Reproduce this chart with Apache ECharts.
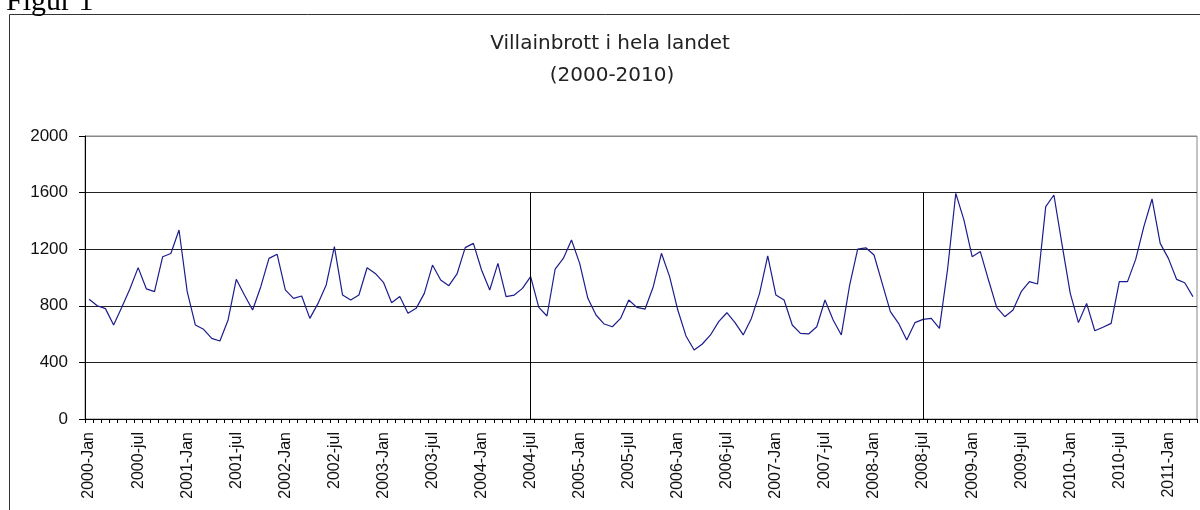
<!DOCTYPE html>
<html>
<head>
<meta charset="utf-8">
<title>Villainbrott i hela landet</title>
<script src="https://cdn.jsdelivr.net/npm/echarts@6/dist/echarts.min.js"></script>
<style>
  html, body { margin: 0; padding: 0; background: #fff; }
  #main { width: 1200px; height: 510px; }
</style>
</head>
<body>
<div id="main"></div>
<script>
// månadsnamn som i originalet (Jan / jul syns på axeln)
var months = ['Jan', 'feb', 'mar', 'apr', 'maj', 'jun', 'jul', 'aug', 'sep', 'okt', 'nov', 'dec'];
var firstYear = 2000;

// antal villainbrott per månad
var v2000 = [846, 800, 780, 665, 790, 920, 1070, 920, 900, 1147, 1170, 1336];
var v2001 = [900, 664, 634, 570, 551, 700, 987, 876, 770, 935, 1135, 1164];
var v2002 = [912, 853, 869, 711, 817, 947, 1218, 876, 841, 876, 1069, 1029];
var v2003 = [966, 822, 865, 747, 782, 888, 1088, 982, 942, 1025, 1211, 1241];
var v2004 = [1053, 912, 1100, 865, 876, 923, 1006, 789, 728, 1060, 1135, 1265];
var v2005 = [1100, 853, 735, 671, 652, 711, 841, 789, 777, 935, 1171, 1006];
var v2006 = [770, 587, 488, 530, 594, 688, 751, 681, 594, 711, 888, 1152];
var v2007 = [876, 841, 664, 605, 601, 652, 841, 700, 594, 940, 1200, 1210];
var v2008 = [1159, 959, 759, 676, 558, 681, 704, 711, 641, 1060, 1595, 1406];
var v2009 = [1147, 1183, 982, 789, 723, 770, 900, 971, 954, 1501, 1583, 1230];
var v2010 = [888, 681, 817, 624, 648, 676, 971, 971, 1128, 1359, 1555, 1241];
var v2011 = [1135, 987, 963, 865];

// markeringslinjer (lodräta) och y-axelns steg
var markMonths = ['2004-jul', '2008-jul'];
var markTop = 1600;
var yTicks = [0, 400, 800, 1200, 1600, 2000];

var values = [].concat(v2000, v2001, v2002, v2003, v2004, v2005,
                       v2006, v2007, v2008, v2009, v2010, v2011);
var categories = [];
for (var i = 0; i < values.length; i++) {
  var y = firstYear + Math.floor(i / 12);
  categories.push(y + '-' + months[i % 12]);
}

var chart = echarts.init(document.getElementById('main'), null, { renderer: 'canvas' });

var option = {
  animation: false,
  backgroundColor: '#fff',
  grid: {
    left: 85, right: 3, top: 136, bottom: 91,
    show: true, borderColor: '#888', borderWidth: 1, backgroundColor: 'transparent'
  },
  graphic: [
    { type: 'rect', silent: true, z: 0,
      shape: { x: 9.5, y: 14.5, width: 1300, height: 600 },
      style: { fill: 'none', stroke: '#333', lineWidth: 1 } },
    { type: 'text', silent: true, x: 6, y: 17,
      style: { text: 'Figur 1', font: '30px "Liberation Serif"', fill: '#000',
               align: 'left', verticalAlign: 'bottom' } },
    { type: 'text', silent: true, x: 610, y: 43.5,
      style: { text: 'Villainbrott i hela landet', font: '20px "DejaVu Sans"', fill: '#222',
               align: 'center', verticalAlign: 'middle' } },
    { type: 'text', silent: true, x: 612, y: 76,
      style: { text: '(2000-2010)', font: '20px "DejaVu Sans"', fill: '#222',
               align: 'center', verticalAlign: 'middle' } }
  ],
  xAxis: {
    type: 'category',
    data: categories,
    boundaryGap: true,
    axisLine: { show: true, lineStyle: { color: '#000', width: 1 } },
    axisTick: { show: true, interval: 0, length: 4, lineStyle: { color: '#000' } },
    axisLabel: {
      interval: 5, rotate: 90, margin: 13,
      fontFamily: '"Liberation Sans", Arial', fontSize: 16, color: '#111'
    },
    splitLine: { show: false }
  },
  yAxis: {
    type: 'value',
    min: yTicks[0], max: yTicks[yTicks.length - 1], interval: 400,
    axisLine: { show: true, lineStyle: { color: '#000', width: 1 } },
    axisTick: { show: true, length: 6, lineStyle: { color: '#000' } },
    axisLabel: {
      margin: 17, fontFamily: '"Liberation Sans", Arial', fontSize: 17, color: '#111',
      formatter: function (v) { return String(v); }
    },
    splitLine: {
      show: true,
      lineStyle: { color: ['#000', '#222', '#222', '#222', '#222', '#888'], width: 1 }
    }
  },
  series: [{
    name: 'Villainbrott',
    type: 'line',
    data: values,
    symbol: 'none',
    lineStyle: { color: '#1c1c8c', width: 1.2 },
    markLine: {
      silent: true,
      symbol: 'none',
      label: { show: false },
      lineStyle: { color: '#000', width: 1, type: 'solid' },
      data: markMonths.map(function (m) {
        return [{ coord: [m, 0] }, { coord: [m, markTop] }];
      })
    }
  }]
};

chart.setOption(option);
</script>
</body>
</html>
